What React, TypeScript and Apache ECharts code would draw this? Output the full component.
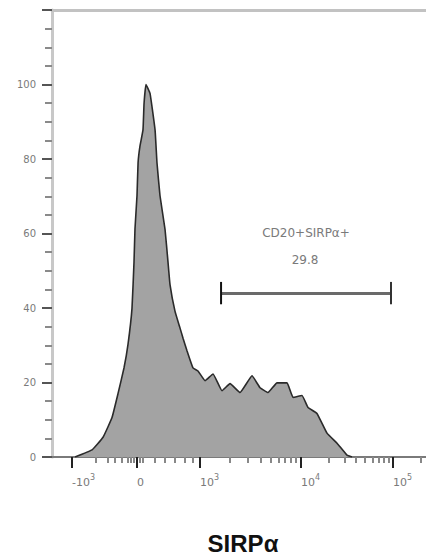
import React, { useEffect, useRef } from "react";
import * as echarts from "echarts";

// Histogram (x in display units of a biexponential scale, y = % of max)
const HIST_X = [1.705, 1.881, 1.995, 2.088, 2.15, 2.212, 2.254, 2.295, 2.316, 2.326, 2.347, 2.358, 2.378, 2.409, 2.42, 2.44, 2.482, 2.534, 2.554, 2.585, 2.637, 2.668, 2.689, 2.741, 2.793, 2.824, 2.865, 2.927, 2.979, 3.052, 3.135, 3.228, 3.311, 3.415, 3.539, 3.622, 3.705, 3.798, 3.902, 3.964, 4.057, 4.119, 4.212, 4.316, 4.42, 4.523, 4.575];
const HIST_Y = [0, 1.9, 5.3, 10.6, 17.0, 23.9, 30.3, 39.9, 52.4, 61.2, 70.2, 79.0, 83.5, 87.8, 94.9, 100, 97.6, 87.8, 79.0, 70.2, 61.2, 52.4, 46.3, 39.1, 34.6, 31.9, 28.5, 23.9, 23.1, 20.5, 22.3, 17.8, 19.7, 17.3, 21.8, 18.6, 17.3, 19.9, 19.9, 16.0, 16.5, 13.3, 11.7, 6.4, 3.7, 0.5, 0];

// X axis ticks (display units) and labels
const X_MIN = 1.466;
const X_MAX = 5.342;
const X_MAJOR_POS = [1.674, 2.347, 3.0, 4.047, 5.0];
const X_MAJOR_LABELS = ["{n|-10}{s|3}", "{n|0}", "{n|10}{s|3}", "{n|10}{s|4}", "{n|10}{s|5}"];
const X_MINOR_POS = [1.922, 2.047, 2.119, 2.192, 2.254, 2.285, 2.316, 2.378, 2.409, 2.534, 2.637, 2.741, 2.845, 2.927, 3.311, 3.497, 3.632, 3.736, 3.819, 3.881, 3.943, 3.995, 4.337, 4.503, 4.617, 4.71, 4.793, 4.855, 4.907, 4.959, 5.29];

// Y axis
const Y_MIN = 0;
const Y_MAX = 120;
const Y_INTERVAL = 20;

// Gate
const GATE_X = [3.218, 4.979];
const GATE_Y = 43.9;
const GATE_CAP = [41.0, 47.0];
const GATE_NAME = "CD20+SIRPα+";
const GATE_VALUE = "29.8";
const AXIS_TITLE = "SIRPα";

export default function App() {
  const ref = useRef<HTMLDivElement>(null);
  useEffect(() => {
    document.body.style.margin = "0";
    if (!ref.current) return;
    const chart = echarts.init(ref.current, null, { renderer: "svg" });
    const histData = HIST_X.map((x, i) => [x, HIST_Y[i]]);
    const font = "DejaVu Sans";
    chart.setOption({
      animation: false,
      backgroundColor: "#ffffff",
      grid: { left: 52, right: 0, top: 10, bottom: 101 },
      xAxis: [
        {
          type: "value",
          min: X_MIN,
          max: X_MAX,
          position: "bottom",
          splitLine: { show: false },
          axisLine: { show: true, lineStyle: { color: "#7a7a7a", width: 2 } },
          axisTick: { show: true, customValues: X_MAJOR_POS, length: 11, lineStyle: { color: "#222", width: 2 } },
          axisLabel: {
            customValues: X_MAJOR_POS,
            formatter: (v: number) => {
              const i = X_MAJOR_POS.findIndex((p) => Math.abs(p - v) < 1e-6);
              return i >= 0 ? X_MAJOR_LABELS[i] : "";
            },
            align: "left",
            margin: 16,
            rich: {
              n: { fontSize: 11, fontFamily: font, color: "#7a7a7a", verticalAlign: "bottom", lineHeight: 15 },
              s: { fontSize: 8, fontFamily: font, color: "#7a7a7a", verticalAlign: "top", lineHeight: 15 },
            },
          },
        },
        {
          type: "value",
          min: X_MIN,
          max: X_MAX,
          position: "bottom",
          splitLine: { show: false },
          axisLine: { show: false },
          axisLabel: { show: false },
          axisTick: { show: true, customValues: X_MINOR_POS, length: 6, lineStyle: { color: "#888", width: 2 } },
        },
        {
          type: "value",
          min: X_MIN,
          max: X_MAX,
          position: "top",
          splitLine: { show: false },
          axisLine: { show: true, lineStyle: { color: "#c2c2c2", width: 3 } },
          axisLabel: { show: false },
          axisTick: { show: false },
        },
      ],
      yAxis: {
        type: "value",
        min: Y_MIN,
        max: Y_MAX,
        interval: Y_INTERVAL,
        splitLine: { show: false },
        axisLine: { show: true, lineStyle: { color: "#c8c8c8", width: 3 } },
        axisTick: { show: true, length: 10, lineStyle: { color: "#555", width: 2 } },
        minorTick: { show: true, splitNumber: 4, length: 7, lineStyle: { color: "#8a8a8a", width: 2 } },
        minorSplitLine: { show: false },
        axisLabel: {
          showMaxLabel: false,
          formatter: (v: number) => (v >= Y_MAX ? "" : String(v)),
          fontSize: 10,
          fontFamily: font,
          color: "#7a7a7a",
          margin: 16,
        },
      },
      series: [
        {
          type: "line",
          xAxisIndex: 0,
          data: histData,
          symbol: "none",
          smooth: 0.1,
          lineStyle: { color: "#2a2a2a", width: 1.6 },
          areaStyle: { color: "#a3a3a3", opacity: 1 },
          z: 2,
        },
        {
          type: "line",
          xAxisIndex: 0,
          data: GATE_X.map((x) => [x, GATE_Y]),
          symbol: "none",
          lineStyle: { color: "#6a6a6a", width: 3 },
          z: 3,
        },
        {
          type: "line",
          xAxisIndex: 0,
          data: GATE_CAP.map((y) => [GATE_X[0], y]),
          symbol: "none",
          lineStyle: { color: "#111", width: 2 },
          z: 4,
        },
        {
          type: "line",
          xAxisIndex: 0,
          data: GATE_CAP.map((y) => [GATE_X[1], y]),
          symbol: "none",
          lineStyle: { color: "#333", width: 2 },
          z: 4,
        },
      ],
      graphic: [
        {
          type: "text",
          x: 306,
          y: 233,
          style: { text: GATE_NAME, fontSize: 12, fontFamily: font, fill: "#7a7a7a", align: "center", verticalAlign: "middle" },
        },
        {
          type: "text",
          x: 305,
          y: 260,
          style: { text: GATE_VALUE, fontSize: 12, fontFamily: font, fill: "#7a7a7a", align: "center", verticalAlign: "middle" },
        },
        {
          type: "text",
          x: 243,
          y: 543,
          style: { text: AXIS_TITLE, fontSize: 24, fontWeight: "bold", fontFamily: "Liberation Sans", fill: "#111", align: "center", verticalAlign: "middle" },
        },
      ],
    });
    return () => chart.dispose();
  }, []);
  return <div ref={ref} style={{ width: 426, height: 558 }} />;
}
